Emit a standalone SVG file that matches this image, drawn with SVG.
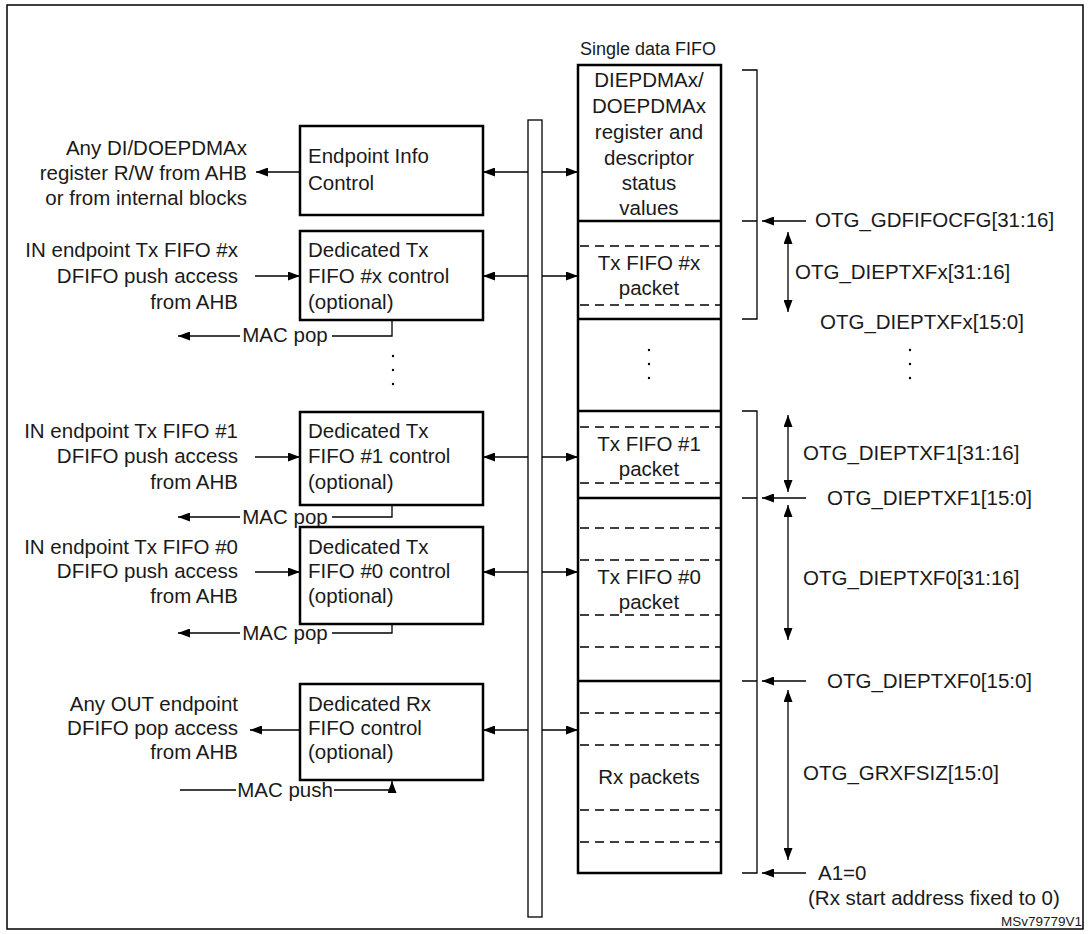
<svg xmlns="http://www.w3.org/2000/svg" width="1089" height="934" viewBox="0 0 1089 934">
<style>
text{font-family:"Liberation Sans",Arial,sans-serif;font-size:20.5px;fill:#1a1a1a}
.r{text-anchor:end}.m{text-anchor:middle}
.box{fill:#fff;stroke:#000;stroke-width:2.5}
.ln{stroke:#000;stroke-width:1.3;fill:none}
.th{stroke:#000;stroke-width:2.5}
.ds{stroke:#000;stroke-width:1.3;stroke-dasharray:9,6}
.dot{fill:#000}
</style>
<defs>
<marker id="a" markerWidth="12" markerHeight="9" refX="12" refY="4.5" orient="auto-start-reverse" markerUnits="userSpaceOnUse"><path d="M0,0L12,4.5L0,9z" fill="#000"/></marker>
</defs>
<rect x="7" y="5" width="1076" height="924" fill="#fff" stroke="#000" stroke-width="1.5"/>
<g id="bus"><rect x="528" y="120" width="14" height="797" fill="#fff" stroke="#000" stroke-width="1.3"/></g>
<g id="epinfo"><rect class="box" x="300" y="126" width="183" height="89"/><text x="308" y="163">Endpoint Info</text><text x="308" y="190">Control</text>
<text class="r" x="247" y="155">Any DI/DOEPDMAx</text><text class="r" x="247" y="180">register R/W from AHB</text><text class="r" x="247" y="205">or from internal blocks</text></g>
<g id="txx"><rect class="box" x="300" y="231" width="183" height="89"/><text x="308" y="257">Dedicated Tx</text><text x="308" y="283">FIFO #x control</text><text x="308" y="309">(optional)</text>
<text class="r" x="238" y="257">IN endpoint Tx FIFO #x</text><text class="r" x="238" y="283">DFIFO push access</text><text class="r" x="238" y="309">from AHB</text>
<text class="m" x="285" y="342">MAC pop</text></g>
<g id="tx1"><rect class="box" x="300" y="412" width="183" height="93"/><text x="308" y="438">Dedicated Tx</text><text x="308" y="463">FIFO #1 control</text><text x="308" y="489">(optional)</text>
<text class="r" x="238" y="438">IN endpoint Tx FIFO #1</text><text class="r" x="238" y="463">DFIFO push access</text><text class="r" x="238" y="489">from AHB</text>
<text class="m" x="285" y="524">MAC pop</text></g>
<g id="tx0"><rect class="box" x="300" y="527" width="183" height="97"/><text x="308" y="554">Dedicated Tx</text><text x="308" y="578">FIFO #0 control</text><text x="308" y="603">(optional)</text>
<text class="r" x="238" y="554">IN endpoint Tx FIFO #0</text><text class="r" x="238" y="578">DFIFO push access</text><text class="r" x="238" y="603">from AHB</text>
<text class="m" x="285" y="640">MAC pop</text></g>
<g id="rx"><rect class="box" x="300" y="684" width="183" height="96"/><text x="308" y="711">Dedicated Rx</text><text x="308" y="735">FIFO control</text><text x="308" y="759">(optional)</text>
<text class="r" x="238" y="711">Any OUT endpoint</text><text class="r" x="238" y="735">DFIFO pop access</text><text class="r" x="238" y="759">from AHB</text>
<text class="m" x="285" y="797">MAC push</text></g>
<g id="fifo">
<text class="m" x="648" y="55" style="font-size:18px">Single data FIFO</text>
<rect x="578" y="65" width="143" height="808" fill="#fff" stroke="#000" stroke-width="2.5"/>
<text class="m" x="649" y="87">DIEPDMAx/</text><text class="m" x="649" y="113">DOEPDMAx</text><text class="m" x="649" y="139">register and</text><text class="m" x="649" y="165">descriptor</text><text class="m" x="649" y="190">status</text><text class="m" x="649" y="215">values</text>
<line class="th" x1="578" y1="221" x2="721" y2="221"/><line class="th" x1="578" y1="319" x2="721" y2="319"/><line class="th" x1="578" y1="411" x2="721" y2="411"/><line class="th" x1="578" y1="498" x2="721" y2="498"/><line class="th" x1="578" y1="681" x2="721" y2="681"/>
<g class="ds"><line x1="580" y1="246" x2="720" y2="246"/><line x1="580" y1="305" x2="720" y2="305"/><line x1="580" y1="427" x2="720" y2="427"/><line x1="580" y1="483" x2="720" y2="483"/><line x1="580" y1="528" x2="720" y2="528"/><line x1="580" y1="560" x2="720" y2="560"/><line x1="580" y1="615" x2="720" y2="615"/><line x1="580" y1="647" x2="720" y2="647"/><line x1="580" y1="713" x2="720" y2="713"/><line x1="580" y1="745" x2="720" y2="745"/><line x1="580" y1="810" x2="720" y2="810"/><line x1="580" y1="842" x2="720" y2="842"/></g>
<text class="m" x="649" y="270">Tx FIFO #x</text><text class="m" x="649" y="295">packet</text>
<text class="m" x="649" y="451">Tx FIFO #1</text><text class="m" x="649" y="476">packet</text>
<text class="m" x="649" y="584">Tx FIFO #0</text><text class="m" x="649" y="609">packet</text>
<text class="m" x="649" y="784">Rx packets</text>
<circle class="dot" cx="649" cy="350" r="1.2"/><circle class="dot" cx="649" cy="364" r="1.2"/><circle class="dot" cx="649" cy="378" r="1.2"/>
</g>
<g id="labels">
<text x="815" y="227">OTG_GDFIFOCFG[31:16]</text>
<text x="795" y="279">OTG_DIEPTXFx[31:16]</text>
<text x="820" y="329">OTG_DIEPTXFx[15:0]</text>
<text x="803" y="460">OTG_DIEPTXF1[31:16]</text>
<text x="827" y="505">OTG_DIEPTXF1[15:0]</text>
<text x="803" y="585">OTG_DIEPTXF0[31:16]</text>
<text x="827" y="688">OTG_DIEPTXF0[15:0]</text>
<text x="803" y="780">OTG_GRXFSIZ[15:0]</text>
<text x="818" y="880">A1=0</text>
<text x="808" y="905">(Rx start address fixed to 0)</text>
<text class="r" x="1082" y="926" style="font-size:13.5px">MSv79779V1</text>
<circle class="dot" cx="910" cy="350" r="1.2"/><circle class="dot" cx="910" cy="364" r="1.2"/><circle class="dot" cx="910" cy="378" r="1.2"/>
<circle class="dot" cx="393" cy="356" r="1.2"/><circle class="dot" cx="393" cy="370" r="1.2"/><circle class="dot" cx="393" cy="384" r="1.2"/>
</g>
<g id="connectors" class="ln">
<path d="M300,172H256" marker-end="url(#a)"/>
<path d="M255,276H300" marker-end="url(#a)"/><path d="M255,457H300" marker-end="url(#a)"/><path d="M255,572H300" marker-end="url(#a)"/>
<path d="M300,730H250" marker-end="url(#a)"/>
<path d="M392,320V336H332"/><path d="M240,336H178" marker-end="url(#a)"/>
<path d="M392,505V517H332"/><path d="M240,517H178" marker-end="url(#a)"/>
<path d="M392,624V633H332"/><path d="M240,633H178" marker-end="url(#a)"/>
<path d="M180,790H236"/><path d="M334,790H392V781" marker-end="url(#a)"/>
<path d="M528,172H483" marker-end="url(#a)"/><path d="M528,276H483" marker-end="url(#a)"/><path d="M528,457H483" marker-end="url(#a)"/><path d="M528,572H483" marker-end="url(#a)"/><path d="M528,730H483" marker-end="url(#a)"/>
<path d="M542,172H578" marker-end="url(#a)"/><path d="M542,276H578" marker-end="url(#a)"/><path d="M542,457H578" marker-end="url(#a)"/><path d="M542,572H578" marker-end="url(#a)"/><path d="M542,730H578" marker-end="url(#a)"/>
<path d="M742,70H757V319H742M742,221H757"/>
<path d="M742,411H757V873H742M742,498H757M742,681H757"/>
<path d="M806,221H762" marker-end="url(#a)"/><path d="M806,498H762" marker-end="url(#a)"/><path d="M806,681H762" marker-end="url(#a)"/><path d="M806,873H762" marker-end="url(#a)"/>
<path d="M788,232V312" marker-start="url(#a)" marker-end="url(#a)"/>
<path d="M788,415V492" marker-start="url(#a)" marker-end="url(#a)"/>
<path d="M788,505V640" marker-start="url(#a)" marker-end="url(#a)"/>
<path d="M788,690V860" marker-start="url(#a)" marker-end="url(#a)"/>
</g>
</svg>
